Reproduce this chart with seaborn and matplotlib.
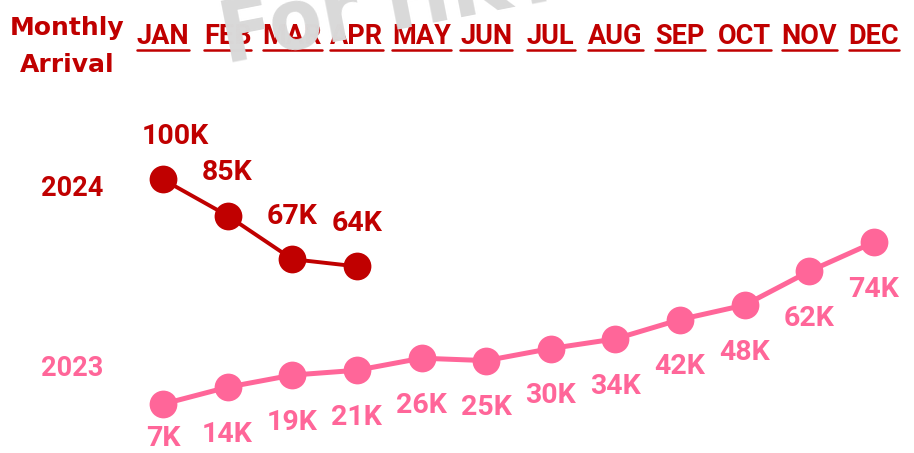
import pandas as pd
import matplotlib.pyplot as plt
import seaborn as sns

months = ["JAN", "FEB", "MAR", "APR", "MAY", "JUN", "JUL", "AUG", "SEP", "OCT", "NOV", "DEC"]
arrivals_2023 = [7, 14, 19, 21, 26, 25, 30, 34, 42, 48, 62, 74]
arrivals_2024 = [100, 85, 67, 64]
labels_2023 = ["7K", "14K", "19K", "21K", "26K", "25K", "30K", "34K", "42K", "48K", "62K", "74K"]
labels_2024 = ["100K", "85K", "67K", "64K"]

DARK_RED = "#C00000"
PINK = "#FF6699"

sns.set_theme(style="white")
plt.rcParams["font.family"] = ["DejaVu Sans"]

df23 = pd.DataFrame({"month": range(len(arrivals_2023)), "value": arrivals_2023})
df24 = pd.DataFrame({"month": range(len(arrivals_2024)), "value": arrivals_2024})

fig = plt.figure(figsize=(9.14, 4.53), dpi=100)
ax = fig.add_axes([130 / 914, 0, 775 / 914, 1])

sns.lineplot(data=df23, x="month", y="value", ax=ax, color=PINK, linewidth=3.6,
             marker="o", markersize=20, markeredgewidth=0)
sns.lineplot(data=df24, x="month", y="value", ax=ax, color=DARK_RED, linewidth=2.8,
             marker="o", markersize=20, markeredgewidth=0)

ax.set_xlim(-0.51, 11.48)
ax.set_ylim(-13.25, 174.3)
ax.axis("off")

# data labels
for i, (v, t) in enumerate(zip(arrivals_2023, labels_2023)):
    dy = -25 if i == 0 else -34
    ax.annotate(t, (i, v), xytext=(0, dy), textcoords="offset points",
                ha="center", va="center", color=PINK, fontsize=20.5,
                fontweight="bold", family="Roboto")
for i, (v, t) in enumerate(zip(arrivals_2024, labels_2024)):
    dx = 9 if i == 0 else 0
    ax.annotate(t, (i, v), xytext=(dx, 31), textcoords="offset points",
                ha="center", va="center", color=DARK_RED, fontsize=20.5,
                fontweight="bold", family="Roboto")

# month headers with underline
for i, m in enumerate(months):
    ax.text(i, 1 - 37 / 453, m, transform=ax.get_xaxis_transform(),
            ha="center", va="center", color=DARK_RED, fontsize=19.5,
            fontweight="bold", family="Roboto", zorder=3)
fig.canvas.draw()
renderer = fig.canvas.get_renderer()
for t in ax.texts:
    if t.get_text() in months:
        bb = t.get_window_extent(renderer).transformed(fig.transFigure.inverted())
        fig.add_artist(plt.Line2D([bb.x0, bb.x1], [1 - 50 / 453] * 2,
                                  color=DARK_RED, linewidth=1.8, zorder=3))

# side labels
fig.text(67 / 914, 1 - 28 / 453, "Monthly", ha="center", va="center",
         color=DARK_RED, fontsize=18, fontweight="bold")
fig.text(67 / 914, 1 - 65 / 453, "Arrival", ha="center", va="center",
         color=DARK_RED, fontsize=18, fontweight="bold")
fig.text(72 / 914, 1 - 188 / 453, "2024", ha="center", va="center",
         color=DARK_RED, fontsize=19.5, fontweight="bold", family="Roboto")
fig.text(72 / 914, 1 - 368 / 453, "2023", ha="center", va="center",
         color=PINK, fontsize=19.5, fontweight="bold", family="Roboto")

# watermark
fig.text(226 / 914, 1 - 63 / 453, "For HKTB", ha="left", va="baseline",
         rotation=11, rotation_mode="anchor", color="#D9D9D9",
         fontsize=62, fontweight="bold", stretch="condensed",
         family=["Liberation Sans Narrow", "DejaVu Sans"], zorder=10)

fig.savefig("out.png", dpi=100)
